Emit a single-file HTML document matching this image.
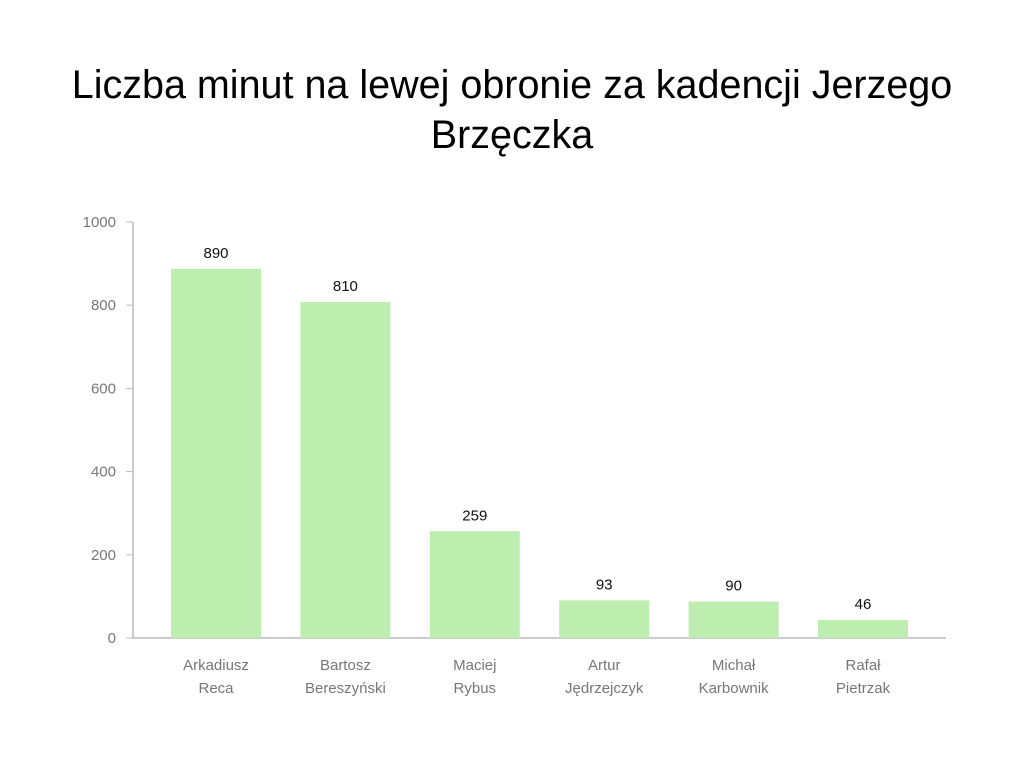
<!DOCTYPE html>
<html><head><meta charset="utf-8"><style>
body{margin:0;background:#fff;font-family:"Liberation Sans",sans-serif;}
</style></head><body>
<svg width="1024" height="768">
<text x="512" y="98" font-size="39.5" text-anchor="middle" fill="#000">Liczba minut na lewej obronie za kadencji Jerzego</text>
<text x="512" y="148" font-size="39.5" text-anchor="middle" fill="#000">Brzęczka</text>
<g id="g"></g>
</svg>
<script>
const categories=[["Arkadiusz","Reca"],["Bartosz","Bereszyński"],["Maciej","Rybus"],["Artur","Jędrzejczyk"],["Michał","Karbownik"],["Rafał","Pietrzak"]];
const values=[890,810,259,93,90,46];
const ticks=[0,200,400,600,800,1000];
const g=document.getElementById('g');const NS='http://www.w3.org/2000/svg';
const y=v=>638-v*0.416;const band=129.4,x0=151.3;const x=i=>x0+band*i+band/2;
function mk(t,a,txt){const e=document.createElementNS(NS,t);for(const k in a)e.setAttribute(k,a[k]);if(txt!==undefined)e.textContent=txt;g.appendChild(e);return e;}
let e=mk('line',{x1:133,y1:222,x2:133,y2:638,stroke:'#bbb','stroke-width':1.5});


e=mk('line',{x1:133,y1:638,x2:946,y2:638,stroke:'#bbb','stroke-width':1.5});


ticks.forEach(t=>{
 e=mk('line',{x1:126,y1:y(t),x2:133,y2:y(t),stroke:'#bbb'});
 
 
 e=mk('text',{x:116,y:y(t)+5,'font-size':15,fill:'#777','text-anchor':'end'},t);
 
 
});
values.forEach((v,i)=>{
 e=mk('rect',{x:x(i)-45,y:y(v)+1,width:90,height:637-y(v),fill:'#bdeeb0'});
 
 
 e=mk('text',{x:x(i),y:y(v)-10,'font-size':15,fill:'#111','text-anchor':'middle'},v);
 
 
 categories[i].forEach((l,j)=>{
  e=mk('text',{x:x(i),y:670+j*23,'font-size':15,fill:'#777','text-anchor':'middle'},l);
  
  
 });
});
</script>
</body></html>
